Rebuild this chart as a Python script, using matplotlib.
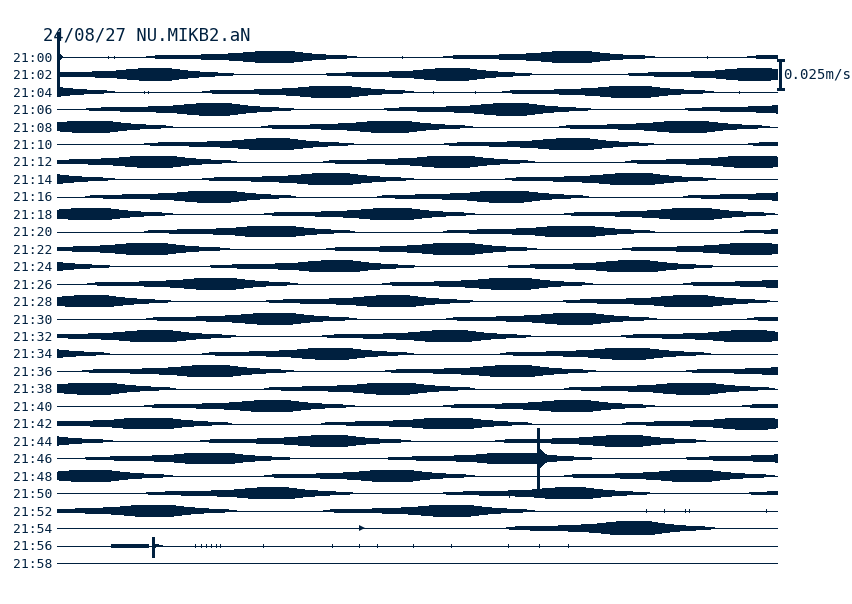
import numpy as np
import matplotlib
matplotlib.use("Agg")
import matplotlib.pyplot as plt

TITLE = "24/08/27 NU.MIKB2.aN"
ROW_LABELS = ["21:%02d" % m for m in range(0, 60, 2)]
ROW_SECONDS = 120
SCALE_VALUE = 0.025          # m/s
SCALE_LABEL = "0.025m/s"
ROW_GAP = 0.01542            # m/s between baselines

# peak time of each wave packet (seconds into the row) and peak amplitude (m/s)
ROW_PEAKS = [
    [36.9, 86.4],          # 21:00
    [16.9, 66.4, 116.6],   # 21:02
    [46.3, 96.2],          # 21:04
    [26.7, 76.2],          # 21:06
    [6.3, 56.1, 105.6],    # 21:08
    [36.5, 86.4],          # 21:10
    [16.9, 66.4, 116.6],   # 21:12
    [46.3, 96.6],          # 21:14
    [26.7, 75.4],          # 21:16
    [6.3, 56.5, 106.4],    # 21:18
    [36.5, 86.4],          # 21:20
    [15.7, 66.8, 116.2],   # 21:22
    [47.1, 96.6],          # 21:24
    [27.1, 76.2],          # 21:26
    [6.3, 56.5, 106.0],    # 21:28
    [36.9, 86.8],          # 21:30
    [16.9, 66.0, 115.8],   # 21:32
    [46.3, 95.8],          # 21:34
    [26.3, 76.6],          # 21:36
    [6.7, 56.5, 106.4],    # 21:38
    [36.5, 86.4],          # 21:40
    [16.1, 66.0, 116.2],   # 21:42
    [45.9, 95.0],          # 21:44
    [26.3, 76.6],          # 21:46
    [6.3, 56.5, 106.4],    # 21:48
    [36.5, 86.0],          # 21:50
    [16.9, 66.4],          # 21:52
    [96.6],                # 21:54
    [],                    # 21:56
    [],                    # 21:58
]
ROW_AMPS = [
    [0.0046, 0.0046],
    [0.0048, 0.0048, 0.0048],
    [0.0047, 0.0047],
    [0.0048, 0.0048],
    [0.0047, 0.0047, 0.0047],
    [0.0046, 0.0046],
    [0.0047, 0.0047, 0.0048],
    [0.0047, 0.0047],
    [0.0047, 0.0047],
    [0.0047, 0.0047, 0.0047],
    [0.0046, 0.0046],
    [0.0047, 0.0047, 0.0047],
    [0.0047, 0.0047],
    [0.0047, 0.0047],
    [0.0047, 0.0047, 0.0047],
    [0.0046, 0.0046],
    [0.0047, 0.0047, 0.0047],
    [0.0046, 0.0046],
    [0.0047, 0.0047],
    [0.0047, 0.0047, 0.0047],
    [0.0046, 0.0046],
    [0.0046, 0.0046, 0.0047],
    [0.0045, 0.0045],
    [0.0046, 0.0046],
    [0.0047, 0.0047, 0.0047],
    [0.0046, 0.0046],
    [0.0047, 0.0047],
    [0.0056],
    [],
    [],
]

# envelope shape of one packet: offset from peak (s) and relative amplitude
PACKET_OFFSET = [-22, -20, -14, -10, -7, -5, -3, 2, 3.5, 5, 7, 9, 11, 13]
PACKET_REL = [0.0, 0.2, 0.3, 0.45, 0.6, 0.82, 1.0, 1.0, 0.78, 0.58, 0.4, 0.26, 0.18, 0.0]

# impulsive events: row, time, up / down excursion, coda amplitude and length
EVENT_ROW = [0, 23, 28]
EVENT_SEC = [0.2, 80.1, 15.9]
EVENT_UP = [0.0221, 0.0265, 0.0080]
EVENT_DOWN = [0.0309, 0.0292, 0.0097]
EVENT_CODA_AMP = [0.0062, 0.0108, 0.0026]
EVENT_CODA_LEN = [0.7, 3.2, 1.6]
CODA_OFFSET = [0.0, 0.1, 0.35, 1.0]
CODA_REL = [1.0, 0.7, 0.3, 0.05]

# flat block just before the last event, gap marker
BLOCK_ROW, BLOCK_START, BLOCK_END, BLOCK_AMP = 28, 9.0, 15.3, 0.0019
GAP_ROW, GAP_SEC = 27, 50.7

# small glitches on the baselines
TICK_ROW = [0, 0, 0, 0, 2, 2, 2, 2, 2, 2, 2, 25, 26, 26, 26, 26, 26,
            28, 28, 28, 28, 28, 28, 28, 28, 28, 28, 28, 28, 28, 28, 28]
TICK_SEC = [8.5, 9.5, 57.4, 108.2, 14.5, 15.2, 30.4, 31.0, 62.5, 69.5, 113.5, 75.3, 98.0,
            101.0, 104.5, 105.2, 118.0, 23.0, 24.0, 24.8, 25.6, 26.5, 27.2, 34.3,
            45.8, 50.3, 53.3, 59.3, 65.5, 75.0, 80.3, 85.0]
TICK_AMP = [0.0012, 0.0012, 0.0012, 0.0012, 0.0012, 0.0012, 0.0012, 0.0012, 0.0012,
            0.0012, 0.0012, 0.0028, 0.0012, 0.0012, 0.0012, 0.0012, 0.0012, 0.0012,
            0.0012, 0.0012, 0.0012, 0.0012, 0.0012, 0.0012, 0.0012, 0.0012, 0.0012,
            0.0012, 0.0012, 0.0012, 0.0012, 0.0012]

COLOR = "#00203f"
PX = 28.3 / SCALE_VALUE      # pixels per m/s in the picture

fig = plt.figure(figsize=(8.52, 6.04), dpi=100)
ax = fig.add_axes([57 / 852, 0, 721 / 852, 1])
ax.set_xlim(0, ROW_SECONDS)
ax.set_ylim(-(604 - 57) / PX, 57 / PX)
ax.axis("off")

n_rows = len(ROW_LABELS)
bases = [-i * ROW_GAP for i in range(n_rows)]

ax.hlines(bases, 0, ROW_SECONDS, color=COLOR, lw=0.7, antialiased=False)

# wave packets, continued across row ends
off = np.array(PACKET_OFFSET)
rel = np.array(PACKET_REL)
for r in range(n_rows):
    for sec, amp in zip(ROW_PEAKS[r], ROW_AMPS[r]):
        t_abs = r * ROW_SECONDS + sec
        for rr in (r - 1, r, r + 1):
            if rr < 0 or rr >= n_rows:
                continue
            tl = t_abs + off - rr * ROW_SECONDS
            if tl.max() < 0 or tl.min() > ROW_SECONDS:
                continue
            xs = np.concatenate([tl, tl[::-1]])
            ys = np.concatenate([bases[rr] + amp * rel, bases[rr] - amp * rel[::-1]])
            ax.fill(xs, ys, color=COLOR, lw=0.3, antialiased=False)

# events
coff = np.array(CODA_OFFSET)
crel = np.array(CODA_REL)
for r, sec, up, dn, ca, cl in zip(EVENT_ROW, EVENT_SEC, EVENT_UP, EVENT_DOWN,
                                  EVENT_CODA_AMP, EVENT_CODA_LEN):
    b = bases[r]
    ax.plot([sec, sec], [b - dn, b + up], color=COLOR, lw=0.75,
            solid_capstyle="butt", antialiased=False)
    tl = sec + coff * cl
    xs = np.concatenate([tl, tl[::-1]])
    ys = np.concatenate([b + ca * crel, b - ca * crel[::-1]])
    ax.fill(xs, ys, color=COLOR, lw=0.3, antialiased=False)

ax.vlines(TICK_SEC, [bases[r] - a for r, a in zip(TICK_ROW, TICK_AMP)],
          [bases[r] + a for r, a in zip(TICK_ROW, TICK_AMP)],
          color=COLOR, lw=0.7, antialiased=False)

ax.fill_between([BLOCK_START, BLOCK_END], bases[BLOCK_ROW] - BLOCK_AMP,
                bases[BLOCK_ROW] + BLOCK_AMP, color=COLOR, lw=0, antialiased=False)
ax.plot([GAP_SEC], [bases[GAP_ROW]], marker=">", ms=4.5, color=COLOR, mew=0)

# labels
for lab, b in zip(ROW_LABELS, bases):
    ax.text(-0.85, b - 1.2 / PX, lab, ha="right", va="center", fontsize=9.4,
            family="DejaVu Sans Mono", color=COLOR)

fig.text(43 / 852, 1 - 40 / 604, TITLE, ha="left", va="baseline", fontsize=12.4,
         family="DejaVu Sans Mono", color=COLOR)

# amplitude scale bar on the second row
xb = ROW_SECONDS + 0.33
yb0, yb1 = bases[1] - SCALE_VALUE / 2, bases[1] + SCALE_VALUE / 2
ax.plot([xb, xb], [yb0, yb1], color=COLOR, lw=0.75, clip_on=False, antialiased=False)
for yy in (yb0, yb1):
    ax.plot([xb - 0.4, xb + 0.45], [yy, yy], color=COLOR, lw=0.75, clip_on=False,
            antialiased=False)
ax.text(ROW_SECONDS + 0.85, bases[1], SCALE_LABEL, ha="left", va="center",
        fontsize=10.2, family="DejaVu Sans Mono", color=COLOR)

fig.savefig("out.png", dpi=100)
